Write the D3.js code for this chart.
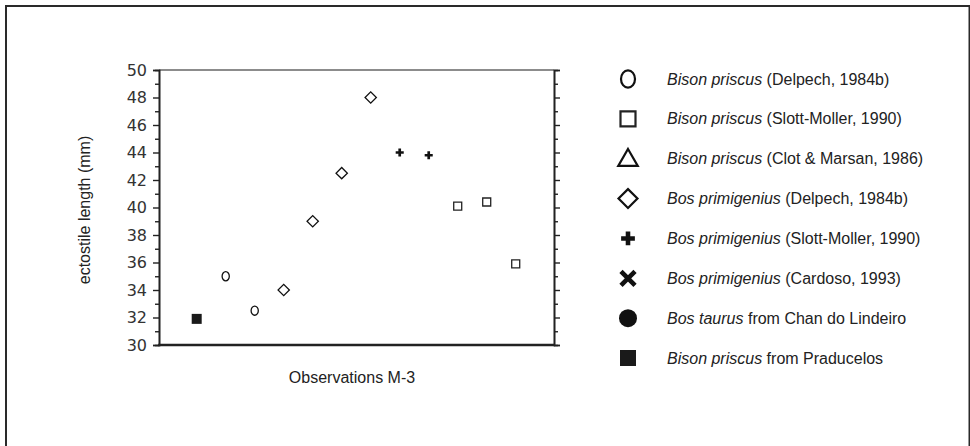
<!DOCTYPE html>
<html>
<head>
<meta charset="utf-8">
<script src="https://cdn.jsdelivr.net/npm/d3@7"></script>
<style>
  body { margin: 0; background: #fff; }
  svg { display: block; }
  .lbl { font-family: "Liberation Sans", Arial, sans-serif; font-size: 16px; fill: #222; }
  .tick text { font-family: "DejaVu Sans", Verdana, sans-serif; font-size: 16px; fill: #333; }
</style>
</head>
<body>
<script>
//////////////////
// DATA         //
//////////////////

// legend entries: italic species name + plain reference
var speciesNames = ["Bison priscus", "Bison priscus", "Bison priscus", "Bos primigenius",
	"Bos primigenius", "Bos primigenius", "Bos taurus", "Bison priscus"];
var speciesRefs = [" (Delpech, 1984b)", " (Slott-Moller, 1990)", " (Clot & Marsan, 1986)",
	" (Delpech, 1984b)", " (Slott-Moller, 1990)", " (Cardoso, 1993)",
	" from Chan do Lindeiro", " from Praducelos"];
var symbolKinds = ["ellipse", "square", "triangle", "diamond", "plus", "cross", "dot", "fsquare"];

// observations (x) and ectostile length in mm (y), with the legend group of each point
var obsIndex = [1, 2, 3, 4, 5, 6, 7, 8, 9, 10, 11, 12];
var obsValue = [31.9, 35.0, 32.5, 34.0, 39.0, 42.5, 48.0, 44.0, 43.8, 40.1, 40.4, 35.9];
var obsGroup = [7, 0, 0, 3, 3, 3, 3, 4, 4, 1, 1, 1];

var yMajorTicks = [30, 32, 34, 36, 38, 40, 42, 44, 46, 48, 50];
var yMinorTicks = [31, 33, 35, 37, 39, 41, 43, 45, 47, 49];

//////////////////
// SET UP       //
//////////////////
var W = 970, H = 446;
var plot = { left: 159, right: 554, top: 70, bottom: 345 };

var svg = d3.select("body").append("svg")
	.attr("width", W)
	.attr("height", H);

// outer frame (bottom edge runs off the picture)
svg.append("rect")
	.attr("x", 6).attr("y", 6)
	.attr("width", 963.5).attr("height", 470)
	.attr("fill", "none")
	.attr("stroke", "#2a2a2a")
	.attr("stroke-width", 2);

var x = d3.scaleLinear().domain([-0.3, 13.32]).range([plot.left, plot.right]);
var y = d3.scaleLinear().domain([30, 50]).range([plot.bottom, plot.top]);

// top border (thin grey)
svg.append("line")
	.attr("x1", plot.left).attr("x2", plot.right)
	.attr("y1", plot.top).attr("y2", plot.top)
	.attr("stroke", "#666").attr("stroke-width", 1.3);

// left axis, major + minor ticks
var leftMajor = svg.append("g")
	.attr("transform", "translate(" + plot.left + ",0)")
	.call(d3.axisLeft(y).tickValues(yMajorTicks).tickSize(6).tickPadding(6).tickFormat(d3.format("d")));
var leftMinor = svg.append("g")
	.attr("transform", "translate(" + plot.left + ",0)")
	.call(d3.axisLeft(y).tickValues(yMinorTicks).tickSize(4).tickFormat(""));

// right axis, ticks outward
var rightMajor = svg.append("g")
	.attr("transform", "translate(" + plot.right + ",0)")
	.call(d3.axisRight(y).tickValues(yMajorTicks).tickSize(6).tickFormat(""));
var rightMinor = svg.append("g")
	.attr("transform", "translate(" + plot.right + ",0)")
	.call(d3.axisRight(y).tickValues(yMinorTicks).tickSize(4).tickFormat(""));

[leftMajor, leftMinor, rightMajor, rightMinor].forEach(function(g) {
	g.select(".domain").attr("stroke", "#222").attr("stroke-width", 1.6);
	g.selectAll(".tick line").attr("stroke", "#222").attr("stroke-width", 1.4);
});

// bottom border (heavier)
svg.append("line")
	.attr("x1", plot.left - 0.8).attr("x2", plot.right + 0.8)
	.attr("y1", plot.bottom).attr("y2", plot.bottom)
	.attr("stroke", "#222").attr("stroke-width", 2.4);

// axis titles
svg.append("text")
	.attr("class", "lbl")
	.attr("transform", "translate(90,210) rotate(-90)")
	.attr("text-anchor", "middle")
	.text("ectostile length (mm)");

svg.append("text")
	.attr("class", "lbl")
	.attr("x", 352).attr("y", 383)
	.attr("text-anchor", "middle")
	.text("Observations M-3");

//////////////////
// SYMBOLS      //
//////////////////
// draw a marker of a given kind into selection g; big = legend scale
function drawMarker(g, kind, big) {
	var k = big ? 1 : 0;
	var sw = big ? 2.2 : 1.3;
	if (kind == "ellipse") {
		g.append("ellipse").attr("rx", [3.6, 7][k]).attr("ry", [4.6, 8.6][k])
			.attr("fill", "none").attr("stroke", "#111").attr("stroke-width", sw);
	} else if (kind == "square") {
		g.append("path").attr("d", d3.symbol(d3.symbolSquare, [64, 225][k])())
			.attr("fill", "none").attr("stroke", "#222").attr("stroke-width", sw);
	} else if (kind == "triangle") {
		g.append("path").attr("d", d3.symbol(d3.symbolTriangle, [40, 165][k])())
			.attr("transform", "translate(0,1.5)")
			.attr("fill", "none").attr("stroke", "#111").attr("stroke-width", sw)
			.attr("stroke-linejoin", "miter");
	} else if (kind == "diamond") {
		g.append("path").attr("d", d3.symbol(d3.symbolSquare, [64, 180][k])())
			.attr("transform", "rotate(45)")
			.attr("fill", "none").attr("stroke", "#111").attr("stroke-width", sw);
	} else if (kind == "plus") {
		g.append("path").attr("d", d3.symbol(d3.symbolCross, [36, 105][k])())
			.attr("fill", "#111");
	} else if (kind == "cross") {
		g.append("path").attr("d", d3.symbol(d3.symbolX, [40, 130][k])())
			.attr("fill", "none").attr("stroke", "#111").attr("stroke-width", [2, 4.6][k]);
	} else if (kind == "dot") {
		g.append("circle").attr("r", [4.5, 9][k]).attr("fill", "#111");
	} else if (kind == "fsquare") {
		g.append("path").attr("d", d3.symbol(d3.symbolSquare, [100, 256][k])())
			.attr("fill", "#1a1a1a");
	}
}

// data points
svg.selectAll(".pt")
	.data(obsIndex)
	.enter()
	.append("g")
		.attr("class", "pt")
		.attr("transform", function(d, i) { return "translate(" + x(d) + "," + y(obsValue[i]) + ")"; })
		.each(function(d, i) { drawMarker(d3.select(this), symbolKinds[obsGroup[i]], false); });

//////////////////
// LEGEND       //
//////////////////
var legY = d3.scalePoint().domain(d3.range(speciesNames.length)).range([79, 358]);

var legend = svg.selectAll(".legend")
	.data(speciesNames)
	.enter()
	.append("g")
		.attr("class", "legend")
		.attr("transform", function(d, i) { return "translate(0," + legY(i) + ")"; });

legend.append("g")
	.attr("transform", "translate(628,0)")
	.each(function(d, i) { drawMarker(d3.select(this), symbolKinds[i], true); });

var legText = legend.append("text")
	.attr("class", "lbl")
	.attr("x", 667)
	.attr("y", 5.5);
legText.append("tspan").style("font-style", "italic").text(function(d) { return d; });
legText.append("tspan").text(function(d, i) { return speciesRefs[i]; });
</script>
</body>
</html>
